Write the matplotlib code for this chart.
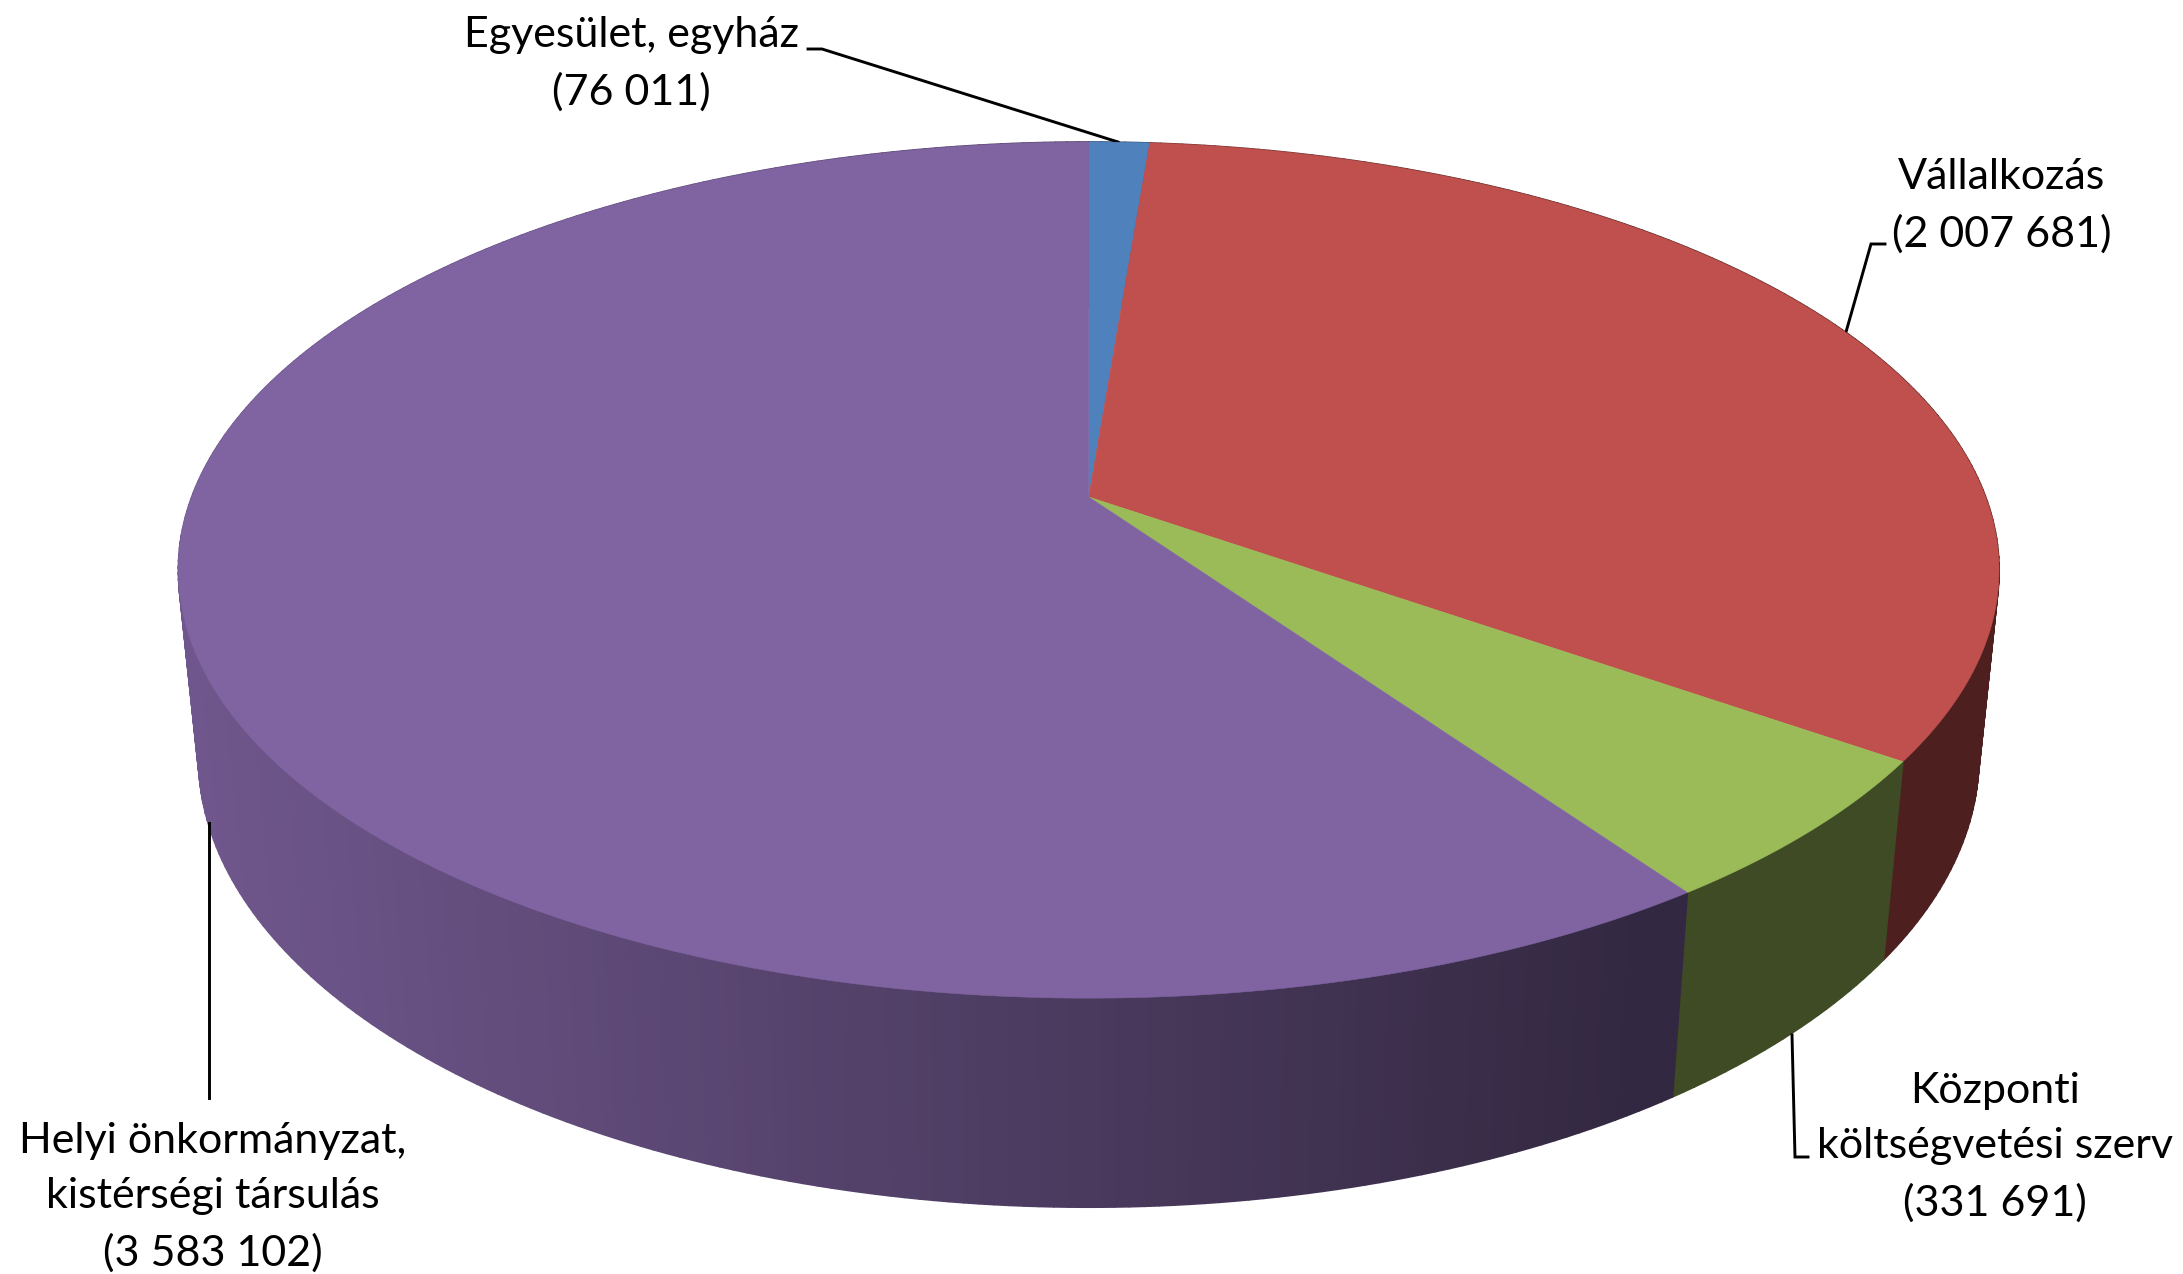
import numpy as np
import matplotlib
matplotlib.use('Agg')
import matplotlib.pyplot as plt
from matplotlib.patches import Polygon
from matplotlib.collections import PolyCollection

# data, clockwise from 12 o'clock
names = ['Egyesület, egyház', 'Vállalkozás', 'Központi\nköltségvetési szerv',
         'Helyi önkormányzat,\nkistérségi társulás']
values = [76011, 2007681, 331691, 3583102]
shown = ['76 011', '2 007 681', '331 691', '3 583 102']
colors = ['#4F81BD', '#C0504D', '#9BBB59', '#8064A2']

# perspective of the 3d disc, in pixels of the output
cx, cy = 1088.7, 497.0
a, b = 897.0, 415.6
k = 0.1707
drop, m = 189.0, 0.022


def project(theta, r=1.0, bottom=False):
    X = r * np.sin(theta)
    Y = r * np.cos(theta)
    if bottom:
        w = 1 + k * Y + m
        return cx + a * X / w, cy - (b * Y - drop) / w
    w = 1 + k * Y
    return cx + a * X / w, cy - b * Y / w


def shade(color, x):
    # side gets darker to the right, then stays flat
    f = np.clip(0.87 - (x - 178) / (1670 - 178) * 0.48, 0.4, 0.87)
    return tuple(np.array(matplotlib.colors.to_rgb(color)) * f)


fig = plt.figure(figsize=(21.83, 12.74), dpi=100)
ax = fig.add_axes([0, 0, 1, 1])
ax.set_xlim(0, 2183)
ax.set_ylim(1274, 0)
ax.axis('off')

edges = np.concatenate([[0], np.cumsum(values)]) / np.sum(values) * 2 * np.pi

# side walls first
for i, c in enumerate(colors):
    n = max(int((edges[i + 1] - edges[i]) * 70), 2)
    t = np.linspace(edges[i], edges[i + 1], n + 1)
    xt, yt = project(t)
    xb, yb = project(t, bottom=True)
    quads = []
    cols = []
    for j in range(n):
        quads.append([(xt[j], yt[j]), (xt[j + 1], yt[j + 1]),
                      (xb[j + 1], yb[j + 1]), (xb[j], yb[j])])
        cols.append(shade(c, (xt[j] + xt[j + 1]) / 2))
    ax.add_collection(PolyCollection(quads, facecolors=cols, edgecolors=cols, linewidths=1.2))

# top of the disc
for i, c in enumerate(colors):
    t = np.linspace(edges[i], edges[i + 1], 300)
    xt, yt = project(t)
    pts = np.column_stack([np.r_[cx, xt], np.r_[cy, yt]])
    ax.add_patch(Polygon(pts, closed=True, facecolor=c, edgecolor=c, linewidth=0.4, zorder=3))

# leader lines
leaders = [
    ([808, 822, 1118], [49, 49, 142]),
    ([1885, 1871, 1846], [244, 244, 332]),
    ([1792, 1795, 1808], [1035, 1157, 1157]),
    ([208.5, 208.5], [823, 1098]),
]
for lx, ly in leaders:
    ax.plot(lx, ly, color='black', lw=2.1, solid_joinstyle='miter', zorder=2)

# labels
label_x = [631, 2002, 1995, 213]
label_y = [64, 205.5, 1147, 1197]
label_size = [31, 31, 31, 31]
for i in range(4):
    ax.text(label_x[i], label_y[i], names[i] + '\n(' + shown[i] + ')', ha='center', va='center',
            fontsize=label_size[i], family='Lato', color='black', linespacing=1.56, zorder=4)

fig.savefig('out.png', dpi=100, facecolor='white')
